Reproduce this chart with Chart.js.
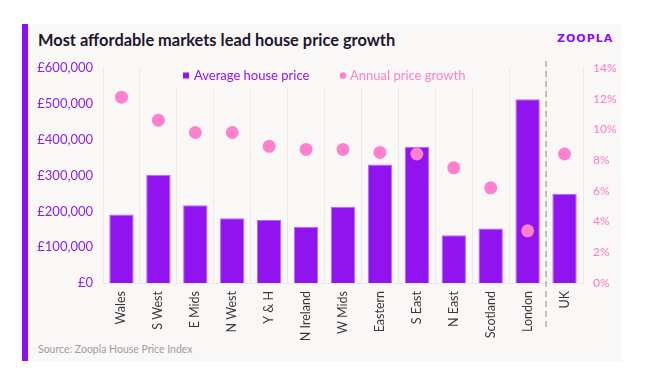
<!DOCTYPE html>
<html>
<head>
<meta charset="utf-8">
<script src="https://cdn.jsdelivr.net/npm/chart.js@4"></script>
<style>
  html, body { margin: 0; padding: 0; background: #fff; }
  body { width: 658px; height: 390px; position: relative; overflow: hidden; font-family: Lato, sans-serif; }
  .card { position: absolute; left: 22px; top: 24px; width: 600px; height: 337px; background: #faf8f7; border-left: 6px solid #8c0ff0; box-sizing: border-box; }
  .title { position: absolute; left: 38px; top: 30px; font-size: 16.4px; font-weight: 700; color: #22152e; }
  .logo { position: absolute; left: 557px; top: 32px; font-family: 'DejaVu Sans', sans-serif; font-size: 11px; font-weight: 700; color: #8c0ff0; text-transform: uppercase; letter-spacing: 1px; }
  .source { position: absolute; left: 38px; top: 343px; font-size: 10.5px; color: #a09a9a; }
  #chart { position: absolute; left: 0; top: 0; }
</style>
</head>
<body>
<div class="card"></div>
<div class="title">Most affordable markets lead house price growth</div>
<div class="logo">zoopla</div>
<div class="source">Source: Zoopla House Price Index</div>
<canvas id="chart" width="658" height="390"></canvas>
<script>
// values
const regions = ['Wales', 'S West', 'E Mids', 'N West', 'Y & H', 'N Ireland', 'W Mids', 'Eastern', 'S East', 'N East', 'Scotland', 'London', 'UK'];
const avgPrice = [191000, 302000, 217000, 181000, 176000, 157000, 213000, 331000, 380000, 133000, 152000, 513000, 249000];
const priceGrowth = [12.1, 10.6, 9.8, 9.8, 8.9, 8.7, 8.7, 8.5, 8.4, 7.5, 6.2, 3.4, 8.4];

const purple = '#9114f0';
const pink = '#ff80cc';

// dashed separator between the regions and the UK figure
const separator = {
  id: 'separator',
  afterDatasetsDraw(chart) {
    const x = chart.scales.x;
    const n = regions.length;
    const px = (x.getPixelForValue(n - 2) + x.getPixelForValue(n - 1)) / 2;
    const ctx = chart.ctx;
    ctx.save();
    ctx.strokeStyle = '#b0acac';
    ctx.lineWidth = 1.5;
    ctx.setLineDash([6, 4]);
    ctx.beginPath();
    ctx.moveTo(px, chart.chartArea.top - 7);
    ctx.lineTo(px, chart.chartArea.bottom + 48);
    ctx.stroke();
    ctx.restore();
  }
};

// legend sits inside the plot on a card-coloured patch
const innerLegend = {
  id: 'innerLegend',
  afterDraw(chart) {
    const ctx = chart.ctx;
    const top = chart.chartArea.top;
    ctx.save();
    ctx.fillStyle = '#faf8f7';
    ctx.fillRect(176, top - 4, 300, 24);
    ctx.font = '13px Lato, sans-serif';
    ctx.textBaseline = 'middle';
    const y = top + 7.5;
    ctx.fillStyle = purple;
    ctx.fillRect(183, y - 3, 6, 6);
    ctx.fillText('Average house price', 194, y);
    ctx.fillStyle = pink;
    ctx.beginPath();
    ctx.arc(343, y, 3.2, 0, Math.PI * 2);
    ctx.fill();
    ctx.fillText('Annual price growth', 350, y);
    ctx.restore();
  }
};

new Chart(document.getElementById('chart'), {
  type: 'bar',
  data: {
    labels: regions,
    datasets: [
      {
        type: 'line',
        label: 'Annual price growth',
        data: priceGrowth,
        yAxisID: 'y1',
        showLine: false,
        pointRadius: 6.5,
        pointHoverRadius: 6.5,
        pointBackgroundColor: pink,
        pointBorderWidth: 0,
        order: 0
      },
      {
        label: 'Average house price',
        data: avgPrice,
        yAxisID: 'y',
        backgroundColor: purple,
        borderColor: '#b569f6',
        borderWidth: 1,
        categoryPercentage: 1,
        barPercentage: 0.66,
        order: 1
      }
    ]
  },
  options: {
    responsive: false,
    animation: false,
    devicePixelRatio: 1,
    layout: { padding: { top: 68, left: 0, right: 0, bottom: 0 } },
    plugins: { legend: { display: false }, tooltip: { enabled: false } },
    scales: {
      x: {
        grid: { color: '#ebe8e8', drawTicks: false, offset: true },
        border: { color: '#ebe8e8' },
        ticks: {
          minRotation: 90, maxRotation: 90, padding: 8,
          color: '#3a3838', font: { family: 'Lato', size: 12.5 }
        },
        afterFit(s) { s.height = 107; }
      },
      y: {
        position: 'left',
        min: 0, max: 600000,
        grid: { display: false },
        border: { display: false },
        ticks: {
          stepSize: 100000, padding: 2,
          color: '#8a22e0', font: { family: 'Lato', size: 13 },
          callback: v => '£' + v.toLocaleString('en-GB')
        },
        afterFit(s) { s.width = 103; }
      },
      y1: {
        position: 'right',
        min: 0, max: 14,
        grid: { display: false },
        border: { display: false },
        ticks: {
          stepSize: 2, padding: 2,
          color: '#ff77c6', font: { family: 'Lato', size: 12 },
          callback: v => v + '%'
        },
        afterFit(s) { s.width = 75; }
      }
    }
  },
  plugins: [separator, innerLegend]
});
</script>
</body>
</html>
